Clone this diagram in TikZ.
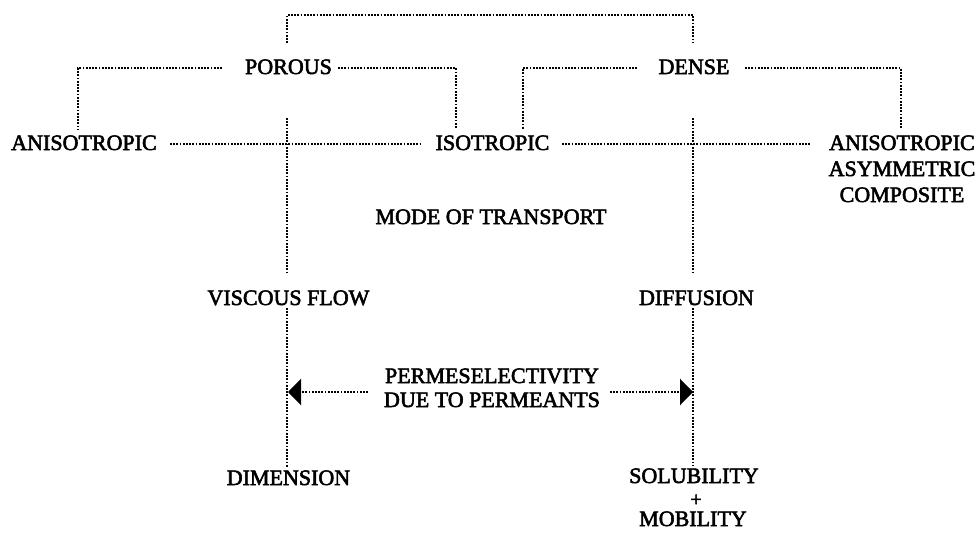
\documentclass[tikz,border=0pt]{standalone}
\usepackage{fontspec}
\setmainfont{Liberation Serif}[FakeBold=2.5]
\usetikzlibrary{arrows.meta}
\begin{document}
\begin{tikzpicture}[x=1pt,y=-1pt,
  lbl/.style={anchor=base,inner sep=0pt,font=\fontsize{22}{24}\selectfont},
  dotline/.style={line width=2.4pt,dash pattern=on 1.8pt off 1.4pt},
  arr/.style={dotline,-{Triangle[length=13pt,width=26pt]}}]
\useasboundingbox (0,0) rectangle (980,538);
% nodes
\node[lbl] (porous) at (288.5,74) {POROUS};
\node[lbl] (dense) at (694,74) {DENSE};
\node[lbl] (aniso) at (84,150) {ANISOTROPIC};
\node[lbl] (iso) at (492.5,150) {ISOTROPIC};
\node[lbl] (anisoR) at (902,150) {ANISOTROPIC};
\node[lbl] (asym) at (902,176) {ASYMMETRIC};
\node[lbl] (compo) at (902,202) {COMPOSITE};
\node[lbl] (mode) at (491,224) {MODE OF TRANSPORT};
\node[lbl] (visc) at (288.5,305) {VISCOUS FLOW};
\node[lbl] (diff) at (696.5,305) {DIFFUSION};
\node[lbl] (perm1) at (492,383) {PERMESELECTIVITY};
\node[lbl] (perm2) at (492,407) {DUE TO PERMEANTS};
\node[lbl] (dim) at (288.5,485) {DIMENSION};
\node[lbl] (sol) at (694,483) {SOLUBILITY};
\node[lbl,font=\fontsize{20}{20}\selectfont] (plus) at (696,506) {+};
\node[lbl] (mob) at (693,526) {MOBILITY};
% coordinates
\coordinate (topL) at (287,43);
\coordinate (topLc) at (287,15);
\coordinate (topRc) at (693,15);
\coordinate (topR) at (693,43);
\coordinate (pl1) at (222,68);
\coordinate (pl2) at (78,129);
\coordinate (pr1) at (338,68);
\coordinate (pr2) at (456,129);
\coordinate (dl1) at (637,68);
\coordinate (dl2) at (523,129);
\coordinate (dr1) at (745,68);
\coordinate (dr2) at (901,129);
\coordinate (rowL1) at (170,144);
\coordinate (rowL2) at (420,144);
\coordinate (rowR1) at (562,144);
\coordinate (rowR2) at (810,144);
\coordinate (vL1) at (287,118);
\coordinate (vL2) at (287,272);
\coordinate (vL3) at (287,308);
\coordinate (vL4) at (287,467);
\coordinate (vR1) at (693,118);
\coordinate (vR2) at (693,272);
\coordinate (vR3) at (693,308);
\coordinate (vR4) at (693,465);
\coordinate (aL0) at (368,392);
\coordinate (aL) at (288,392);
\coordinate (aR0) at (610,392);
\coordinate (aR) at (693,392);
% connectors
\draw[dotline] (topL) -- (topLc) -- (topRc) -- (topR);
\draw[dotline] (pl1) -| (pl2);
\draw[dotline] (pr1) -| (pr2);
\draw[dotline] (dl1) -| (dl2);
\draw[dotline] (dr1) -| (dr2);
\draw[dotline] (rowL1) -- (rowL2);
\draw[dotline] (rowR1) -- (rowR2);
\draw[dotline] (vL1) -- (vL2);
\draw[dotline] (vL3) -- (vL4);
\draw[dotline] (vR1) -- (vR2);
\draw[dotline] (vR3) -- (vR4);
\draw[arr] (aL0) -- (aL);
\draw[arr] (aR0) -- (aR);
\end{tikzpicture}
\end{document}
